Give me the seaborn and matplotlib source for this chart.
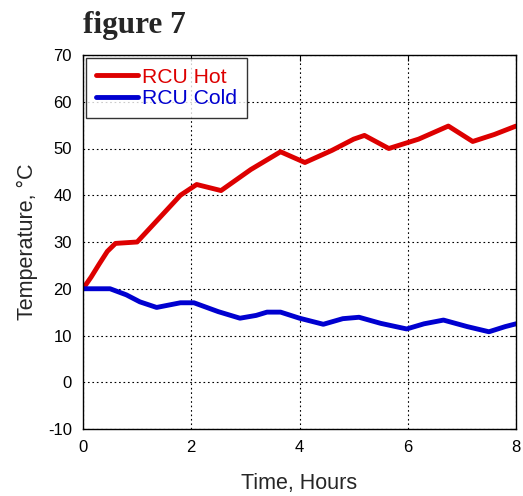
import matplotlib
matplotlib.use("Agg")
import matplotlib.pyplot as plt
import seaborn as sns
import pandas as pd

hot_hours = [0, 0.15, 0.3, 0.45, 0.6, 1.0, 1.4, 1.8, 2.1, 2.55, 3.1, 3.65, 4.1, 4.6, 5.0, 5.2, 5.65, 6.2, 6.75, 7.2, 7.6, 8.0]
hot_temp = [20, 22.5, 25.3, 28, 29.7, 30, 35, 40, 42.3, 41, 45.5, 49.3, 47, 49.6, 52, 52.8, 50, 52, 54.8, 51.5, 53, 54.8]

cold_hours = [0, 0.5, 0.8, 1.05, 1.36, 1.8, 2.05, 2.5, 2.9, 3.2, 3.4, 3.65, 4.0, 4.44, 4.8, 5.1, 5.5, 5.98, 6.3, 6.66, 7.1, 7.5, 7.8, 8.0]
cold_temp = [20, 20, 18.7, 17.2, 16.0, 17.0, 17.0, 15.1, 13.7, 14.3, 15.0, 15.0, 13.7, 12.4, 13.6, 13.9, 12.6, 11.4, 12.5, 13.3, 11.9, 10.8, 11.9, 12.5]

x_ticks = [0, 2, 4, 6, 8]
y_ticks = [-10, 0, 10, 20, 30, 40, 50, 60, 70]

sns.set_style("white")
plt.rcParams['font.family'] = ['Liberation Sans', 'DejaVu Sans']
plt.rcParams['axes.unicode_minus'] = False

fig = plt.figure(figsize=(5.23, 4.96), dpi=100)
ax = fig.add_axes([83/523, 1 - 429/496, (516 - 83)/523, (429 - 55)/496])

red = "#DD0000"
blue = "#0000D0"
sns.lineplot(x=hot_hours, y=hot_temp, ax=ax, color=red, linewidth=3.5, sort=False, label="RCU Hot")
sns.lineplot(x=cold_hours, y=cold_temp, ax=ax, color=blue, linewidth=3.5, sort=False, label="RCU Cold")

ax.set_xlim(0, 8)
ax.set_ylim(-10, 70)
ax.set_xticks(x_ticks)
ax.set_yticks(y_ticks)
ax.grid(True, color="black", linestyle=(0, (1.5, 2.5)), linewidth=0.8)
ax.tick_params(direction="in", length=4, width=0.8, top=True, right=True,
               labelsize=12, colors="black", pad=8)
for s in ax.spines.values():
    s.set_color("black")
    s.set_linewidth(1.0)
ax.set_xlabel("Time, Hours", fontsize=15.5, labelpad=13)
ax.set_ylabel("Temperature, °C", fontsize=15.5, labelpad=7)

leg = ax.legend(loc="upper left", fontsize=15.2, frameon=True, fancybox=False,
                handlelength=2.0, handletextpad=0.2, borderpad=0.45,
                labelspacing=0.12, borderaxespad=0.15)
leg.get_frame().set_edgecolor("black")
leg.get_frame().set_linewidth(1.0)
for txt, c in zip(leg.get_texts(), [red, blue]):
    txt.set_color(c)

fig.text(83/523, 1 - 33/496, "figure 7", fontsize=22.5, fontweight="bold",
         family=["Liberation Serif", "DejaVu Serif"], va="baseline", ha="left")

fig.savefig("out.png", dpi=100)
